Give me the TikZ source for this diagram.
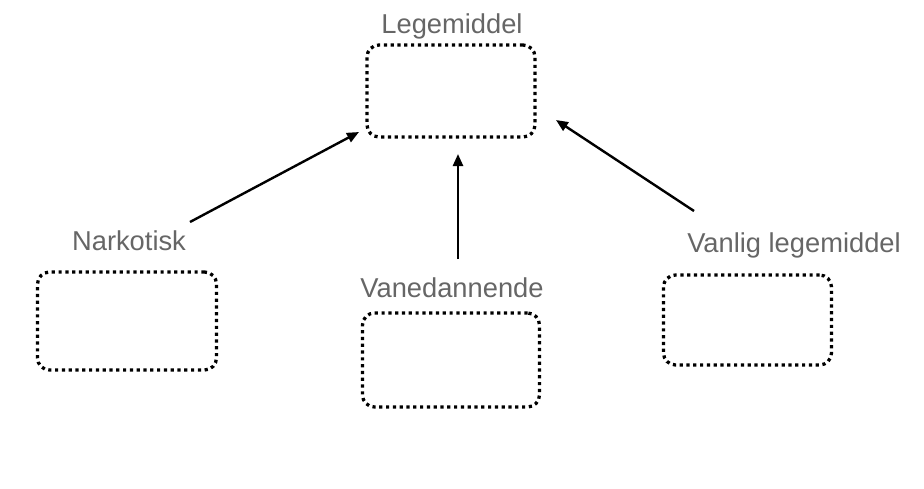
\documentclass[tikz,border=0pt]{standalone}
\usepackage{fontspec}
\setmainfont{Liberation Sans}
\usetikzlibrary{arrows.meta}
\definecolor{labelgray}{HTML}{666666}
\begin{document}
\begin{tikzpicture}[x=1pt,y=-1pt,
  dotbox/.style={draw=black, line width=3.3pt, dash pattern=on 3.2pt off 3.6pt, rounded corners=12pt, minimum width=#1, inner sep=0pt},
  lbl/.style={text=labelgray, font=\fontsize{27.3}{30}\selectfont, anchor=base, inner sep=0pt},
  arr/.style={line width=2.4pt, -{Triangle[length=12pt,width=10pt]}}]
\useasboundingbox (0,0) rectangle (924,488);
\node[dotbox=168pt, minimum height=92pt] (top) at (451,91) {};
\node[dotbox=179pt, minimum height=98pt] (nark) at (127,321) {};
\node[dotbox=177pt, minimum height=94pt] (vane) at (451,360) {};
\node[dotbox=168pt, minimum height=90pt] (vanl) at (747.5,320) {};
\node[lbl] (ltop) at (452,33) {Legemiddel};
\node[lbl] (lnark) at (129,250) {Narkotisk};
\node[lbl] (lvane) at (452,297) {Vanedannende};
\node[lbl] (lvanl) at (794,252) {Vanlig legemiddel};
\coordinate (s1) at (190,222);
\coordinate (e1) at (359,132);
\coordinate (s2) at (458,259);
\coordinate (e2) at (458,154);
\coordinate (s3) at (694,211);
\coordinate (e3) at (556,120);
\draw[arr] (s1) -- (e1);
\draw[arr] (s2) -- (e2);
\draw[arr] (s3) -- (e3);
\end{tikzpicture}
\end{document}
